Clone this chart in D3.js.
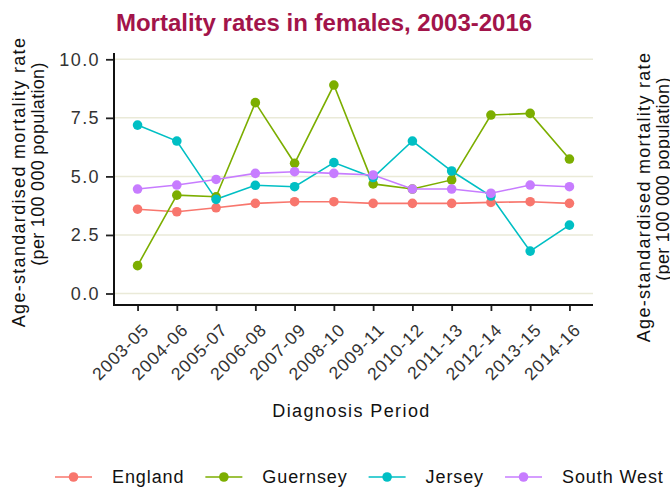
<!DOCTYPE html>
<html>
<head>
<meta charset="utf-8">
<script src="https://cdn.jsdelivr.net/npm/d3@7"></script>
<style>
  html, body { margin: 0; padding: 0; background: #fff; }
  svg { display: block; font-family: "Liberation Sans", Arial, sans-serif; }
</style>
</head>
<body>
<svg id="chart" width="670" height="491"></svg>
<script>
// Diagnosis periods (three-year rolling windows)
const periods = ["2003-05", "2004-06", "2005-07", "2006-08", "2007-09", "2008-10",
                 "2009-11", "2010-12", "2011-13", "2012-14", "2013-15", "2014-16"];

// Age-standardised mortality rates per 100 000 females
const england   = [3.60, 3.49, 3.66, 3.85, 3.92, 3.92, 3.85, 3.85, 3.85, 3.89, 3.92, 3.85];
const guernsey  = [1.19, 4.20, 4.13, 8.15, 5.56, 8.90, 4.68, 4.46, 4.85, 7.62, 7.69, 5.74];
const jersey    = [7.19, 6.51, 4.02, 4.62, 4.56, 5.59, 4.95, 6.51, 5.23, 4.16, 1.81, 2.92];
const southWest = [4.46, 4.63, 4.87, 5.13, 5.20, 5.13, 5.06, 4.46, 4.46, 4.28, 4.63, 4.56];

const seriesNames  = ["England", "Guernsey", "Jersey", "South West"];
const seriesColors = ["#F8766D", "#7CAE00", "#00BFC4", "#C77CFF"];
const yTicks = [0, 2.5, 5, 7.5, 10];

const series = [england, guernsey, jersey, southWest].map((vals, i) => ({
  name: seriesNames[i],
  color: seriesColors[i],
  values: vals.map((v, j) => ({ period: periods[j], value: v }))
}));

const svg = d3.select("#chart");

// panel bounds
const panel = { left: 114, right: 593, top: 53, bottom: 305 };

const x = d3.scalePoint()
  .domain(periods)
  .range([panel.left, panel.right])
  .padding(0.6);

const y = d3.scaleLinear()
  .domain([0, 10])
  .range([293.5, 59.3]);

// horizontal grid lines
svg.append("g")
  .selectAll("line")
  .data(yTicks)
  .join("line")
  .attr("x1", panel.left).attr("x2", panel.right)
  .attr("y1", d => y(d)).attr("y2", d => y(d))
  .attr("stroke", "#EAEAD8")
  .attr("stroke-width", 1.5);

// y axis
const yAxis = svg.append("g")
  .attr("transform", `translate(${panel.left},0)`)
  .call(d3.axisLeft(y).tickValues(yTicks).tickFormat(d3.format(".1f")).tickSize(8).tickPadding(6));
yAxis.select(".domain").remove();
yAxis.selectAll(".tick line").attr("stroke", "#222").attr("stroke-width", 1.8);
yAxis.selectAll(".tick text")
  .attr("fill", "#333")
  .style("font-size", "18px")
  .style("letter-spacing", "1.4px")
  .style("font-family", "'Liberation Sans', Arial, sans-serif");

// x axis
const xAxis = svg.append("g")
  .attr("transform", `translate(0,${panel.bottom})`)
  .call(d3.axisBottom(x).tickSize(6));
xAxis.select(".domain").remove();
xAxis.selectAll(".tick line").attr("stroke", "#222").attr("stroke-width", 1.8);
xAxis.selectAll(".tick text")
  .attr("fill", "#333")
  .attr("y", null)
  .attr("dy", "0.72em")
  .attr("text-anchor", "end")
  .attr("transform", "translate(3,17) rotate(-45)")
  .style("font-size", "17.5px")
  .style("letter-spacing", "1px")
  .style("font-family", "'Liberation Sans', Arial, sans-serif");

// axis lines
svg.append("path")
  .attr("d", `M${panel.left},${panel.top}V${panel.bottom}H${panel.right}`)
  .attr("fill", "none")
  .attr("stroke", "#111")
  .attr("stroke-width", 2);

// series lines
const line = d3.line()
  .x(d => x(d.period))
  .y(d => y(d.value));

svg.append("g")
  .selectAll("path")
  .data(series)
  .join("path")
  .attr("d", d => line(d.values))
  .attr("fill", "none")
  .attr("stroke", d => d.color)
  .attr("stroke-width", 1.6);

// series points
svg.append("g")
  .selectAll("g")
  .data(series)
  .join("g")
  .attr("fill", d => d.color)
  .selectAll("circle")
  .data(d => d.values)
  .join("circle")
  .attr("cx", d => x(d.period))
  .attr("cy", d => y(d.value))
  .attr("r", 4.8);

// title
svg.append("text")
  .attr("x", 324)
  .attr("y", 31)
  .attr("text-anchor", "middle")
  .attr("fill", "#A2144A")
  .style("font-size", "24px")
  .style("font-weight", "bold")
  .text("Mortality rates in females, 2003-2016");

// y axis title (drawn twice: this panel and the neighbouring one at the right edge)
function yTitle(g) {
  g.append("text")
    .attr("transform", "translate(25,182) rotate(-90)")
    .attr("text-anchor", "middle")
    .attr("fill", "#111")
    .style("font-size", "18px")
    .style("letter-spacing", "1.3px")
    .text("Age-standardised mortality rate");
  g.append("text")
    .attr("transform", "translate(44,164) rotate(-90)")
    .attr("text-anchor", "middle")
    .attr("fill", "#111")
    .style("font-size", "18px")
    .style("letter-spacing", "0.3px")
    .text("(per 100 000 population)");
}
svg.append("g").call(yTitle);
svg.append("g").attr("transform", "translate(625,15)").call(yTitle);

// x axis title
svg.append("text")
  .attr("x", (panel.left + panel.right) / 2 - 2)
  .attr("y", 417)
  .attr("text-anchor", "middle")
  .attr("fill", "#111")
  .style("font-size", "18px")
  .style("letter-spacing", "1.4px")
  .text("Diagnosis Period");

// legend
const legend = svg.append("g").attr("transform", "translate(55,477)");
let lx = 0;
series.forEach(s => {
  const item = legend.append("g").attr("transform", `translate(${lx},0)`);
  item.append("line")
    .attr("x1", 0).attr("x2", 37)
    .attr("stroke", s.color).attr("stroke-width", 1.6);
  item.append("circle")
    .attr("cx", 18.5).attr("r", 4.8).attr("fill", s.color);
  const t = item.append("text")
    .attr("x", 57)
    .attr("dy", "0.36em")
    .attr("fill", "#111")
    .style("font-size", "18px")
    .style("letter-spacing", "0.9px")
    .text(s.name);
  lx += 57 + t.node().getComputedTextLength() + 21;
});
</script>
</body>
</html>
